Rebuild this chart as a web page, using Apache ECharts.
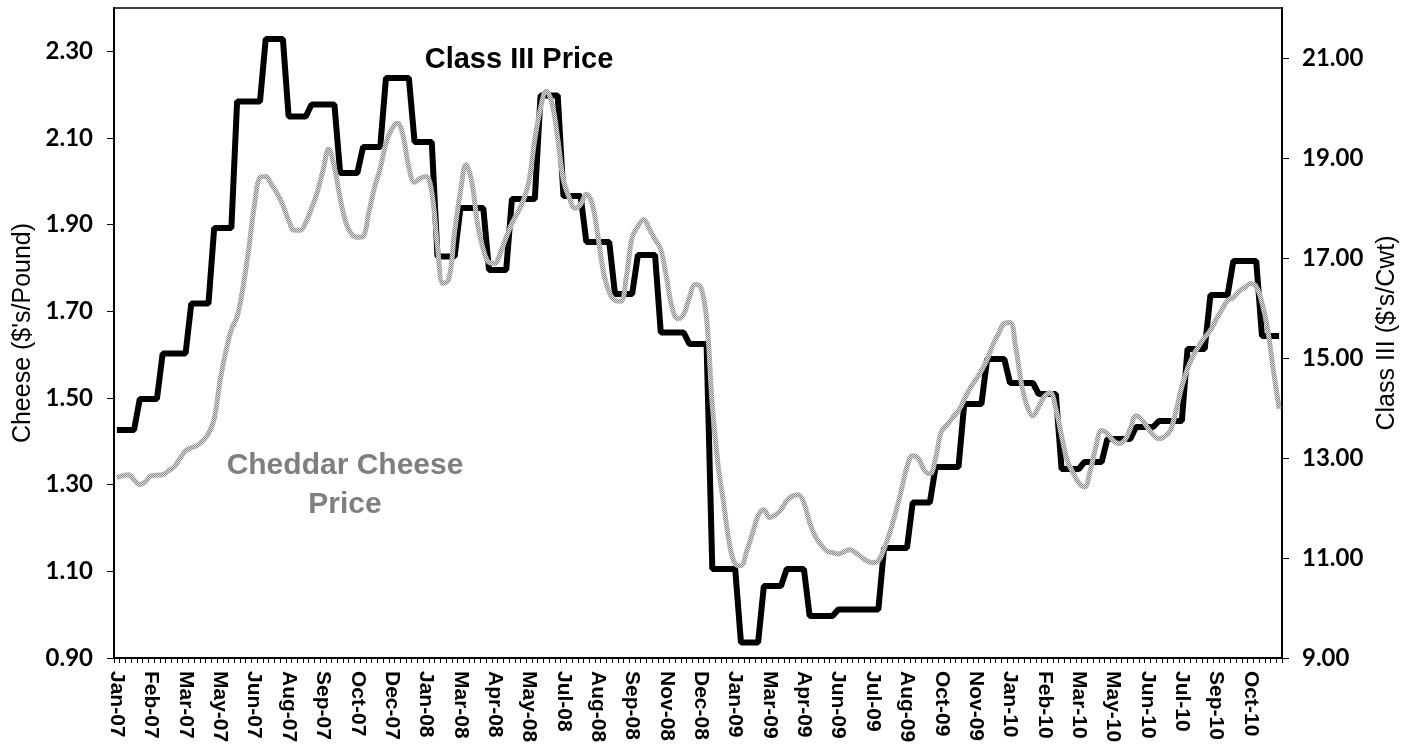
<!DOCTYPE html>
<html>
<head>
<meta charset="utf-8">
<script src="https://cdn.jsdelivr.net/npm/echarts@6/dist/echarts.min.js"></script>
<style>
html,body{margin:0;padding:0;background:#fff;}
#chart{width:1418px;height:744px;}
</style>
</head>
<body>
<div id="chart"></div>
<script>
// Weekly observations (Saturdays) from 6 Jan 2007, 204 weeks
const startWeek = [2007, 0, 6];
const weekCount = 204;
const monthNames = ['Jan','Feb','Mar','Apr','May','Jun','Jul','Aug','Sep','Oct','Nov','Dec'];

// Class III price, $/cwt (weekly, right axis)
const classIII = [
  13.56,13.56,13.56,13.56, 14.18,14.18,14.18,14.18, 15.09,15.09,15.09,15.09,15.09,
  16.09,16.09,16.09,16.09, 17.60,17.60,17.60,17.60, 20.13,20.13,20.13,20.13,20.13,
  21.38,21.38,21.38,21.38, 19.83,19.83,19.83,19.83, 20.07,20.07,20.07,20.07,20.07,
  18.70,18.70,18.70,18.70, 19.22,19.22,19.22,19.22, 20.60,20.60,20.60,20.60,20.60,
  19.32,19.32,19.32,19.32, 17.03,17.03,17.03,17.03, 18.00,18.00,18.00,18.00,18.00,
  16.76,16.76,16.76,16.76, 18.18,18.18,18.18,18.18,18.18, 20.25,20.25,20.25,20.25,
  18.24,18.24,18.24,18.24, 17.32,17.32,17.32,17.32,17.32, 16.28,16.28,16.28,16.28,
  17.06,17.06,17.06,17.06, 15.51,15.51,15.51,15.51,15.51, 15.28,15.28,15.28,15.28,
  10.78,10.78,10.78,10.78,10.78, 9.31,9.31,9.31,9.31, 10.44,10.44,10.44,10.44,
  10.78,10.78,10.78,10.78, 9.84,9.84,9.84,9.84,9.84, 9.97,9.97,9.97,9.97,
  9.97,9.97,9.97,9.97, 11.20,11.20,11.20,11.20,11.20, 12.11,12.11,12.11,12.11,
  12.82,12.82,12.82,12.82,12.82, 14.08,14.08,14.08,14.08, 14.98,14.98,14.98,14.98,
  14.50,14.50,14.50,14.50,14.50, 14.28,14.28,14.28,14.28, 12.78,12.78,12.78,12.78,
  12.92,12.92,12.92,12.92, 13.38,13.38,13.38,13.38,13.38, 13.62,13.62,13.62,13.62,
  13.74,13.74,13.74,13.74,13.74, 15.18,15.18,15.18,15.18, 16.26,16.26,16.26,16.26,
  16.94,16.94,16.94,16.94,16.94, 15.44,15.44,15.44,15.44
];

// Cheddar cheese price, $/lb (weekly, left axis)
const cheddar = [
  1.316,1.321,1.323,1.311,1.300,1.307,1.321,1.322,1.323,1.332,
  1.341,1.360,1.378,1.385,1.390,1.401,1.418,1.452,1.538,1.605,
  1.658,1.688,1.753,1.841,1.942,2.009,2.011,1.993,1.972,1.945,
  1.910,1.887,1.887,1.905,1.938,1.975,2.025,2.074,2.032,1.961,
  1.905,1.878,1.871,1.873,1.928,1.986,2.030,2.088,2.120,2.134,
  2.104,2.032,1.998,2.007,2.011,1.975,1.850,1.764,1.775,1.885,
  1.975,2.039,1.998,1.901,1.843,1.813,1.811,1.836,1.871,1.903,
  1.928,1.956,2.002,2.097,2.169,2.208,2.180,2.099,2.002,1.963,
  1.938,1.947,1.970,1.949,1.875,1.790,1.744,1.725,1.723,1.781,
  1.871,1.896,1.912,1.890,1.866,1.843,1.778,1.707,1.683,1.693,
  1.732,1.762,1.755,1.683,1.482,1.346,1.256,1.163,1.117,1.113,
  1.147,1.187,1.228,1.242,1.224,1.230,1.242,1.263,1.274,1.277,
  1.258,1.212,1.180,1.161,1.147,1.143,1.140,1.145,1.150,1.143,
  1.133,1.124,1.120,1.124,1.152,1.189,1.235,1.286,1.341,1.367,
  1.360,1.334,1.325,1.362,1.422,1.438,1.455,1.471,1.496,1.522,
  1.542,1.563,1.589,1.623,1.649,1.672,1.674,1.616,1.533,1.480,
  1.459,1.480,1.503,1.512,1.475,1.413,1.355,1.328,1.304,1.295,
  1.332,1.388,1.425,1.418,1.402,1.395,1.402,1.429,1.459,1.450,
  1.432,1.415,1.406,1.411,1.425,1.471,1.526,1.568,1.598,1.621,
  1.640,1.656,1.681,1.704,1.725,1.732,1.746,1.755,1.764,1.757,
  1.720,1.658,1.563,1.475
];

// Tick labels
const leftTicks = [0.9, 1.1, 1.3, 1.5, 1.7, 1.9, 2.1, 2.3];
const rightTicks = [9, 11, 13, 15, 17, 19, 21];
const leftAxisName = "Cheese ($'s/Pound)";
const rightAxisName = "Class III ($'s/Cwt)";
const classLabel = 'Class III Price';
const cheddarLabel = 'Cheddar Cheese\nPrice';

// Category labels (weeks)
const categories = [];
for (let i = 0; i < weekCount; i++) {
  const d = new Date(startWeek[0], startWeek[1], startWeek[2] + 7 * i);
  categories.push(monthNames[d.getMonth()] + '-' + String(d.getFullYear()).slice(2));
}

// checker pattern for the cheddar line
const pc = document.createElement('canvas');
pc.width = 2; pc.height = 2;
const pctx = pc.getContext('2d');
pctx.fillStyle = '#dcdcdc'; pctx.fillRect(0, 0, 2, 2);
pctx.fillStyle = '#8a8a8a'; pctx.fillRect(0, 0, 1, 1); pctx.fillRect(1, 1, 1, 1);

const chart = echarts.init(document.getElementById('chart'), null, {renderer: 'canvas'});
const tickFont = 'Lato';
const textFont = 'Liberation Sans';

chart.setOption({
  animation: false,
  backgroundColor: '#fff',
  grid: {left: 114, right: 136, top: 8, height: 650, show: true, borderColor: '#000', borderWidth: 1.5,
    backgroundColor: 'transparent', containLabel: false, outerBoundsMode: 'none'},
  xAxis: {
    type: 'category',
    data: categories,
    boundaryGap: true,
    axisLine: {show: true, lineStyle: {color: '#000', width: 2}},
    axisTick: {show: true, interval: 0, length: 5, lineStyle: {color: '#000', width: 1}},
    axisLabel: {
      interval: 5, rotate: -90, margin: 13,
      fontFamily: textFont, fontSize: 21, fontWeight: 'bold', color: '#000'
    },
    splitLine: {show: false}
  },
  yAxis: [
    {
      type: 'value', position: 'left', min: 0.9, max: 2.4,
      axisLine: {show: true, lineStyle: {color: '#000', width: 2}},
      axisTick: {show: true, length: 7, customValues: leftTicks, lineStyle: {color: '#000', width: 1}},
      axisLabel: {customValues: leftTicks, margin: 21, align: 'right', fontFamily: tickFont, fontSize: 24, fontWeight: 'bold', color: '#000',
        formatter: v => v.toFixed(2)},
      splitLine: {show: false},
      name: leftAxisName, nameLocation: 'middle', nameGap: 78, nameMoveOverlap: false,
      nameTextStyle: {fontFamily: textFont, fontSize: 25, color: '#000'}
    },
    {
      type: 'value', position: 'right', min: 9, max: 22,
      axisLine: {show: true, lineStyle: {color: '#000', width: 2}},
      axisTick: {show: true, length: 7, customValues: rightTicks, lineStyle: {color: '#000', width: 1}},
      axisLabel: {customValues: rightTicks, margin: 20, align: 'left', fontFamily: tickFont, fontSize: 24, fontWeight: 'bold', color: '#000',
        formatter: v => v.toFixed(2)},
      splitLine: {show: false},
      name: rightAxisName, nameLocation: 'middle', nameGap: 93, nameMoveOverlap: false,
      nameTextStyle: {fontFamily: textFont, fontSize: 25, color: '#000'}
    }
  ],
  series: [
    {
      name: 'Class III Price', type: 'line', yAxisIndex: 1, data: classIII,
      showSymbol: false, symbol: 'none',
      itemStyle: {color: '#000'},
      lineStyle: {color: '#000', width: 6}
    },
    {
      name: 'Cheddar Cheese Price', type: 'line', yAxisIndex: 0, data: cheddar,
      showSymbol: false, symbol: 'none', smooth: 0.4,
      itemStyle: {color: '#b0b0b0'},
      lineStyle: {color: {image: pc, repeat: 'repeat'}, width: 5}
    }
  ],
  graphic: [
    {type: 'text', x: 519, y: 60, style: {text: classLabel, fill: '#000', font: 'bold 29px "Liberation Sans"', textAlign: 'center', textVerticalAlign: 'middle'}},
    {type: 'text', x: 345, y: 485, style: {text: cheddarLabel, fill: '#7f7f7f', font: 'bold 30px "Liberation Sans"', textAlign: 'center', textVerticalAlign: 'middle', lineHeight: 39}}
  ]
});
</script>
</body>
</html>
